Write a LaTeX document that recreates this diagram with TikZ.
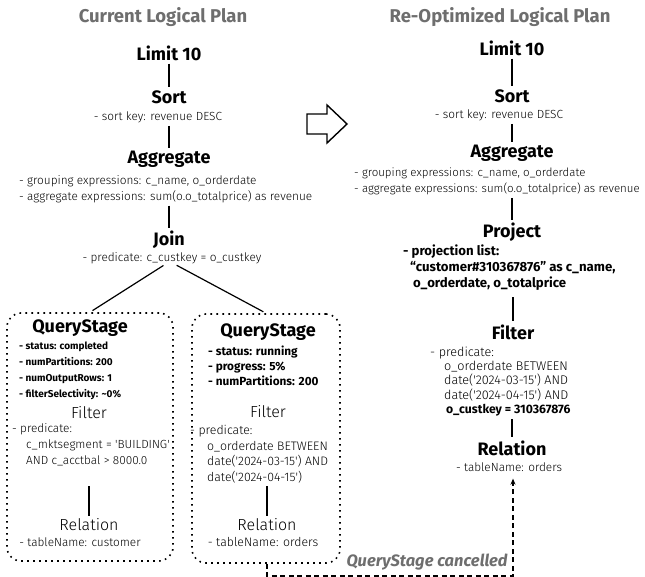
\documentclass[tikz,border=0pt]{standalone}
\usepackage{fontspec}
\setmainfont{Fira Sans}
\newfontfamily\lightfont{Fira Sans Light}
\usetikzlibrary{arrows.meta}
\definecolor{titlegray}{HTML}{6E6E6E}
\tikzset{
  ttl/.style={font=\fontsize{18.5}{21}\selectfont\bfseries, text=titlegray, inner sep=0pt},
  head/.style={font=\fontsize{18}{21}\selectfont\bfseries, inner sep=0pt},
  lhead/.style={font=\lightfont\fontsize{16}{19}\selectfont, inner sep=0pt},
  desc/.style={font=\lightfont\fontsize{11.8}{16}\selectfont, align=left, inner sep=0pt},
  bdesc/.style={font=\fontsize{10.5}{16}\selectfont\bfseries, align=left, inner sep=0pt},
  link/.style={line width=1.2pt, shorten <=3pt, shorten >=3pt},
  stagebox/.style={draw, line width=1.6pt, dash pattern=on 1.6pt off 4.4pt, rounded corners=14pt, inner sep=0pt},
  cancel/.style={line width=1.3pt, dash pattern=on 5pt off 3.5pt, -{Stealth[length=6pt,width=5pt]}},
}
\begin{document}
\begin{tikzpicture}[x=1pt,y=-1pt]
\useasboundingbox (0,0) rectangle (645,577);

% ---------------- left plan
\node[ttl] (titleL) at (163,17) {Current Logical Plan};
\node[head] (limitL) at (169,53) {Limit 10};
\node[head] (sortL) at (169,97) {Sort};
\node[desc] (skL) at (158,117) {- sort key: revenue DESC};
\node[head] (aggL) at (169,159) {Aggregate};
\node[desc, anchor=north west] (adL) at (19,175) {- grouping expressions: c\_name, o\_orderdate\\- aggregate expressions: sum(o.o\_totalprice) as revenue};
\node[head] (joinL) at (169,240) {Join};
\node[desc] (jpL) at (172,258) {- predicate: c\_custkey = o\_custkey};

\draw[link] (limitL) -- (sortL);
\draw[link] (skL.south -| aggL.north) -- (aggL.north);
\draw[link] (adL.south -| joinL.north) -- (joinL.north);

\node[stagebox, minimum width=166pt, minimum height=248pt] (boxL) at (90,437) {};
\node[stagebox, minimum width=148pt, minimum height=249pt] (boxR) at (266,438.5) {};

\draw[link] ([xshift=-6pt]jpL.south) -- (boxL.north);
\draw[link] ([xshift=2pt]jpL.south) -- (boxR.north);

% left stage
\node[head] (qsL) at (80,328) {QueryStage};
\node[bdesc, anchor=north west, font=\fontsize{10}{16}\selectfont\bfseries] (qbL) at (19,342) {- status: completed\\- numPartitions: 200\\- numOutputRows: 1\\- filterSelectivity: \textasciitilde0\%};
\node[lhead] (filL) at (89,413) {Filter};
\node[desc, anchor=north west] (fpL) at (12,423.5) {- predicate:\\\hspace*{14pt}c\_mktsegment = \textquotesingle BUILDING\textquotesingle\\\hspace*{14pt}AND c\_acctbal > 8000.0};
\node[lhead] (relL) at (89,525) {Relation};
\node[desc] (tnL) at (80,542) {- tableName: customer};
\draw[link, shorten <=20pt] (fpL.south -| relL.north) -- (relL.north);

% right stage
\node[head] (qsR) at (268,332) {QueryStage};
\node[bdesc, anchor=north west, font=\fontsize{11.8}{14.8}\selectfont\bfseries] (qbR) at (208,346) {- status: running\\- progress: 5\%\\- numPartitions: 200};
\node[lhead] (filR) at (268,412) {Filter};
\node[desc, anchor=north west, font=\lightfont\fontsize{12.3}{15.5}\selectfont] (fpR) at (190,425.5) {- predicate:\\\hspace*{17pt}o\_orderdate BETWEEN\\\hspace*{17pt}date(\textquotesingle 2024-03-15\textquotesingle) AND\\\hspace*{17pt}date(\textquotesingle 2024-04-15\textquotesingle)};
\node[lhead] (relR) at (267,525) {Relation};
\node[desc, font=\lightfont\fontsize{12.3}{15}\selectfont] (tnR) at (263,542) {- tableName: orders};
\draw[link] (fpR.south -| relR.north) -- (relR.north);

% ---------------- big arrow
\draw[line width=1.4pt, line join=miter] (307,114) -- (327,114) -- (327,105) -- (347,124) -- (327,143) -- (327,134) -- (307,134) -- cycle;

% ---------------- right plan
\node[ttl] (titleR) at (500,17) {Re-Optimized Logical Plan};
\node[head] (limitR) at (512,48) {Limit 10};
\node[head] (sortR) at (512,96) {Sort};
\node[desc] (skR) at (499,115) {- sort key: revenue DESC};
\node[head] (aggR) at (512,153) {Aggregate};
\node[desc, anchor=north west, font=\lightfont\fontsize{11.5}{16}\selectfont] (adR) at (354,167.5) {- grouping expressions: c\_name, o\_orderdate\\- aggregate expressions: sum(o.o\_totalprice) as revenue};
\node[head] (projR) at (512,232) {Project};
\node[bdesc, anchor=north west, font=\fontsize{13.2}{16}\selectfont\bfseries] (pdR) at (403,245) {- projection list:\\\hspace*{7pt}“customer\#310367876” as c\_name,\\\hspace*{10pt}o\_orderdate, o\_totalprice};
\node[head] (filR2) at (513,332) {Filter};
\node[desc, anchor=north west, font=\lightfont\fontsize{12.6}{14.3}\selectfont] (fpR2) at (430,346.5) {- predicate:\\\hspace*{14pt}o\_orderdate BETWEEN\\\hspace*{14pt}date(\textquotesingle 2024-03-15\textquotesingle) AND\\\hspace*{14pt}date(\textquotesingle 2024-04-15\textquotesingle) AND\\\hspace*{16pt}{\normalfont\bfseries\fontsize{12.2}{14.3}\selectfont o\_custkey = 310367876}};
\node[head] (relR2) at (512,448) {Relation};
\node[desc] (tnR2) at (509,467) {- tableName: orders};

\draw[link] (limitR) -- (sortR);
\draw[link] (skR.south -| aggR.north) -- (aggR.north);
\draw[link] (adR.south -| projR.north) -- (projR.north);
\draw[link, shorten <=6pt] (pdR.south -| filR2.north) -- (filR2.north);
\draw[link] (fpR2.south -| relR2.north) -- (relR2.north);

% ---------------- cancelled connector
\node[font=\fontsize{16.5}{18}\selectfont\bfseries\itshape, text=titlegray, inner sep=0pt] (cancelL) at (427,562) {QueryStage cancelled};
\draw[cancel, shorten >=7pt] ([xshift=1pt]boxR.south) |- (400,576) -| ([xshift=4pt]tnR2.south);
\end{tikzpicture}
\end{document}
